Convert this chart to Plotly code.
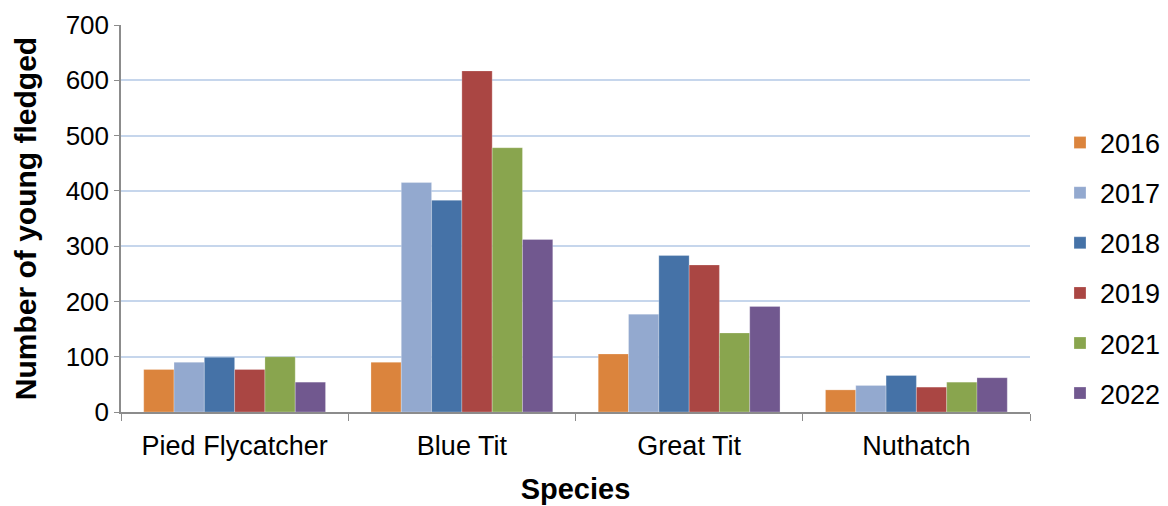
import plotly.graph_objects as go

species = ["Pied Flycatcher", "Blue Tit", "Great Tit", "Nuthatch"]
years = ["2016", "2017", "2018", "2019", "2021", "2022"]
v2016 = [77, 90, 105, 40]
v2017 = [90, 415, 177, 48]
v2018 = [99, 383, 283, 66]
v2019 = [77, 617, 266, 45]
v2021 = [100, 478, 143, 54]
v2022 = [54, 312, 191, 62]
series = [v2016, v2017, v2018, v2019, v2021, v2022]
colors = ["#DB843D", "#93A9CF", "#4572A7", "#AA4643", "#89A54E", "#71588F"]

fig = go.Figure()
for y, vals, c in zip(years, series, colors):
    fig.add_trace(go.Bar(x=species, y=vals, name=y, legendgroup=y,
                         marker=dict(color=c, line=dict(color="rgba(255,255,255,0.5)", width=0.5))))

font = "Liberation Sans, Arial, sans-serif"
fig.update_layout(
    width=1168, height=506,
    margin=dict(l=121, r=138, t=25, b=94, autoexpand=False),
    paper_bgcolor="white", plot_bgcolor="white",
    barmode="group", bargap=0.2, bargroupgap=0,
    font=dict(family=font, size=27, color="#000000"),
    legend=dict(x=1.033, y=0.372, yanchor="middle", xanchor="left",
                tracegroupgap=12, font=dict(size=27), itemwidth=30),
    xaxis=dict(title=dict(text="<b>Species</b>", font=dict(size=29), standoff=19),
               showline=True, linecolor="#8c8c8c", linewidth=1.5,
               ticks="outside", tickson="boundaries", ticklen=7, tickcolor="#8c8c8c",
               ticklabelstandoff=9, tickfont=dict(size=27)),
    yaxis=dict(title=dict(text="<b>Number of young fledged</b>", font=dict(size=30), standoff=20),
               range=[0, 700], dtick=100, showline=True, linecolor="#8c8c8c", linewidth=1.5,
               ticks="outside", ticklen=5, tickcolor="#8c8c8c",
               showgrid=True, gridcolor="#c6d6ec", gridwidth=1.5,
               zeroline=False, tickfont=dict(size=26)),
)
fig.write_html("out.html")
